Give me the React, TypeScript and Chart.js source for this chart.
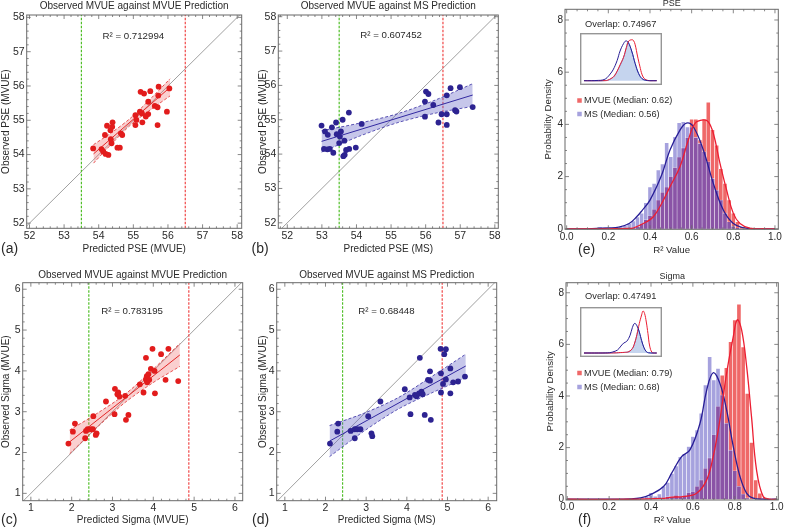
import React, { useEffect, useRef } from "react";
import { Chart, registerables } from "chart.js";

Chart.register(...registerables);

const FONT = '"Liberation Sans", Arial, Helvetica, sans-serif';
Chart.defaults.font.family = FONT;

// ---------------- tick labels ----------------
const pseTicks = [52, 53, 54, 55, 56, 57, 58];
const sigmaTicks = [1, 2, 3, 4, 5, 6];
const r2Ticks = [0, 0.2, 0.4, 0.6, 0.8, 1.0];
const densityTicks = [0, 2, 4, 6, 8];

// ---------------- (a) PSE: observed MVUE vs MVUE prediction ----------------
const aPred = [53.84, 55.21, 55.31, 55.49, 55.73, 56.04, 55.43, 55.72, 55.62, 55.7, 55.97, 55.19, 55.25, 55.43, 55.36, 55.06, 55.09, 55.06, 55.26, 55.7, 54.4, 54.39, 54.24, 54.34, 54.64, 54.68, 54.18, 54.35, 54.37, 54.08, 54.13, 54.2, 54.28, 54.54, 54.61];
const aObs = [54.18, 55.83, 55.78, 55.85, 55.98, 55.93, 55.54, 55.72, 55.42, 55.38, 55.25, 55.25, 55.2, 55.18, 55.11, 55.15, 55.01, 54.86, 54.94, 54.86, 54.94, 54.81, 54.84, 54.71, 54.62, 54.57, 54.57, 54.45, 54.33, 54.16, 54.09, 54.02, 53.99, 54.2, 54.2];
const aFitX = [53.85, 56.06];
const aFitY = [54.02, 55.96];
const aBandX = [53.85, 54.4, 54.95, 55.5, 56.06];
const aBandLo = [53.75, 54.34, 54.89, 55.31, 55.71];
const aBandHi = [54.29, 54.66, 55.09, 55.63, 56.21];

// ---------------- (b) PSE: observed MVUE vs MS prediction ----------------
const bPred = [52.99, 53.09, 53.17, 53.29, 53.41, 53.6, 53.78, 53.43, 53.55, 53.52, 53.06, 53.16, 53.23, 53.33, 53.5, 53.65, 53.7, 53.79, 53.66, 53.62, 53.98, 54.15, 56.01, 56.08, 55.98, 56.22, 55.98, 56.37, 56.61, 56.72, 56.99, 56.46, 56.61, 56.61, 56.89, 56.85, 57.36];
const bObs = [54.83, 54.66, 54.56, 54.78, 54.92, 55.0, 55.21, 54.58, 54.66, 54.51, 54.15, 54.14, 54.15, 54.04, 54.32, 54.39, 54.12, 54.15, 53.98, 53.94, 54.19, 54.88, 55.82, 55.75, 55.53, 55.43, 55.09, 54.92, 55.71, 55.92, 55.95, 55.16, 55.16, 54.85, 55.24, 55.28, 55.37];
const bFitX = [52.99, 57.36];
const bFitY = [54.37, 55.72];
const bBandX = [52.99, 54.08, 55.17, 56.27, 57.36];
const bBandLo = [54.06, 54.52, 54.91, 55.19, 55.39];
const bBandHi = [54.68, 54.9, 55.17, 55.57, 56.05];

// ---------------- (c) Sigma: observed MVUE vs MVUE prediction ----------------
const cPred = [1.92, 2.03, 2.08, 2.35, 2.39, 2.47, 2.52, 2.33, 2.59, 2.61, 2.53, 2.84, 3.06, 3.12, 3.17, 3.14, 3.31, 3.05, 3.33, 3.39, 3.67, 3.76, 3.82, 3.85, 3.84, 3.88, 3.94, 4.03, 4.04, 4.3, 4.61, 3.82, 3.98, 4.19, 4.37, 3.9];
const cObs = [2.22, 2.51, 2.71, 2.53, 2.57, 2.57, 2.57, 2.35, 2.43, 2.47, 2.89, 3.25, 3.56, 3.43, 3.37, 3.47, 3.39, 2.94, 2.8, 2.92, 3.67, 3.47, 3.79, 3.72, 3.87, 3.92, 4.05, 4.0, 3.45, 3.78, 3.75, 4.32, 4.54, 4.41, 4.54, 3.78];
const cFitX = [1.95, 4.65];
const cFitY = [2.26, 4.39];
const cBandX = [1.95, 2.625, 3.3, 3.975, 4.65];
const cBandLo = [1.97, 2.62, 3.22, 3.7, 4.11];
const cBandHi = [2.55, 2.96, 3.42, 4.02, 4.67];

// ---------------- (d) Sigma: observed MVUE vs MS prediction ----------------
const dPred = [2.11, 2.31, 2.29, 2.62, 2.72, 2.78, 2.86, 2.72, 3.13, 3.15, 3.05, 3.35, 3.95, 4.07, 4.2, 4.24, 4.3, 4.36, 4.39, 4.09, 4.44, 4.59, 4.52, 4.57, 4.32, 4.57, 4.83, 4.96, 4.92, 4.84, 4.96, 4.89, 4.84, 5.07, 5.07, 5.14, 5.26, 5.43];
const dObs = [2.22, 2.71, 2.51, 2.53, 2.57, 2.57, 2.57, 2.35, 2.47, 2.4, 2.89, 3.25, 3.55, 3.35, 3.41, 3.38, 3.45, 3.49, 3.43, 2.94, 2.92, 2.8, 3.78, 3.76, 4.32, 3.99, 4.54, 4.53, 4.41, 3.94, 3.79, 3.68, 3.47, 4.06, 3.45, 3.72, 3.74, 3.86];
const dFitX = [2.1, 5.45];
const dFitY = [2.28, 4.12];
const dBandX = [2.1, 2.94, 3.78, 4.61, 5.45];
const dBandLo = [1.9, 2.52, 3.06, 3.46, 3.83];
const dBandHi = [2.66, 2.96, 3.34, 3.86, 4.41];

// reference (threshold) lines: [green, red]
const pseThresholds = [53.5, 56.5];
const sigmaThresholds = [2.42, 4.87];

// ---------------- histograms of R^2 ----------------
const binCenters = [0.1, 0.12, 0.14, 0.16, 0.18, 0.2, 0.22, 0.24, 0.26, 0.28, 0.3, 0.32, 0.34, 0.36, 0.38, 0.4, 0.42, 0.44, 0.46, 0.48, 0.5, 0.52, 0.54, 0.56, 0.58, 0.6, 0.62, 0.64, 0.66, 0.68, 0.7, 0.72, 0.74, 0.76, 0.78, 0.8, 0.82, 0.84, 0.86, 0.88, 0.9, 0.92, 0.94, 0.96];
// (e) PSE
const ePseMS = [0, 0, 0, 0.08, 0.05, 0, 0.03, 0.05, 0.08, 0.12, 0.2, 0.3, 0.45, 0.6, 1.0, 1.6, 1.74, 2.25, 2.48, 3.3, 2.76, 3.53, 4.06, 4.1, 3.9, 3.9, 3.5, 3.27, 2.95, 2.57, 1.93, 1.48, 1.1, 0.6, 0.27, 0.1, 0.03, 0, 0, 0, 0, 0, 0, 0];
const ePseMVUE = [0, 0, 0, 0, 0, 0, 0, 0, 0, 0.03, 0.05, 0.05, 0.08, 0.2, 0.35, 0.5, 0.75, 1.1, 1.4, 1.6, 2.0, 2.35, 2.75, 3.1, 3.5, 4.2, 4.2, 3.4, 4.2, 4.85, 3.8, 3.2, 2.3, 1.74, 1.1, 0.6, 0.27, 0.08, 0.02, 0, 0, 0, 0, 0];
// (f) Sigma
const fSigMS = [0, 0, 0, 0, 0, 0, 0, 0, 0, 0, 0, 0, 0, 0.05, 0.1, 0.25, 0.12, 0.2, 0.5, 0.65, 1.0, 1.29, 1.65, 1.75, 2.04, 2.43, 2.68, 3.33, 4.43, 5.52, 4.62, 5.07, 4.04, 2.94, 1.9, 1.1, 0.5, 0.2, 0.05, 0, 0, 0, 0, 0];
const fSigMVUE = [0, 0, 0, 0, 0, 0, 0, 0, 0, 0, 0, 0, 0, 0, 0, 0, 0, 0, 0.05, 0.1, 0.1, 0.15, 0.1, 0.15, 0.25, 0.3, 0.5, 0.75, 1.2, 1.6, 2.5, 3.6, 4.8, 5.1, 6.1, 6.95, 7.56, 5.9, 4.1, 2.2, 0.75, 0.23, 0.05, 0];

// smoothed density curves
const ePseMSCurveX = [0, 0.1, 0.2, 0.25, 0.3, 0.336, 0.36, 0.4, 0.456, 0.496, 0.544, 0.575, 0.608, 0.656, 0.704, 0.752, 0.8, 0.85, 0.9, 1.0];
const ePseMSCurveY = [0, 0, 0.03, 0.06, 0.2, 0.46, 0.68, 1.1, 2.06, 3.02, 3.78, 4.05, 3.91, 3.02, 1.74, 0.72, 0.2, 0.04, 0, 0];
const ePseMVUECurveX = [0, 0.2, 0.3, 0.32, 0.384, 0.416, 0.456, 0.496, 0.544, 0.584, 0.616, 0.656, 0.68, 0.704, 0.736, 0.768, 0.8, 0.832, 0.88, 0.95, 1.0];
const ePseMVUECurveY = [0, 0, 0.01, 0.03, 0.27, 0.46, 0.97, 1.61, 2.38, 3.4, 4.04, 4.17, 4.1, 3.66, 2.51, 1.48, 0.59, 0.2, 0.02, 0, 0];
const ePseOverlapX = [0, 0.3, 0.384, 0.456, 0.544, 0.584, 0.606, 0.656, 0.704, 0.752, 0.8, 0.85, 1.0];
const ePseOverlapY = [0, 0.01, 0.27, 0.97, 2.38, 3.4, 3.88, 3.02, 1.74, 0.72, 0.2, 0.04, 0];

const fSigMSCurveX = [0, 0.2, 0.3, 0.35, 0.395, 0.46, 0.498, 0.546, 0.586, 0.634, 0.666, 0.697, 0.729, 0.761, 0.793, 0.825, 0.857, 0.888, 0.95, 1.0];
const fSigMSCurveY = [0, 0, 0.01, 0.05, 0.17, 0.49, 1.0, 1.65, 1.91, 2.94, 4.23, 4.9, 4.49, 3.46, 2.04, 0.88, 0.23, 0.04, 0, 0];
const fSigMVUECurveX = [0, 0.3, 0.45, 0.5, 0.554, 0.618, 0.666, 0.697, 0.729, 0.761, 0.793, 0.812, 0.833, 0.857, 0.88, 0.904, 0.936, 0.97, 1.0];
const fSigMVUECurveY = [0, 0, 0.03, 0.08, 0.1, 0.23, 0.75, 1.65, 3.07, 4.88, 6.3, 6.95, 6.55, 5.13, 3.2, 1.14, 0.1, 0, 0];
const fSigOverlapX = [0, 0.45, 0.554, 0.618, 0.666, 0.697, 0.729, 0.745, 0.761, 0.793, 0.825, 0.857, 0.888, 1.0];
const fSigOverlapY = [0, 0.03, 0.1, 0.23, 0.75, 1.65, 3.07, 3.95, 3.46, 2.04, 0.88, 0.23, 0.04, 0];

// ---------------- styles ----------------
const RED_PT = "rgb(226,28,28)";
const RED_LN = "rgb(226,40,40)";
const RED_BAND = "rgba(240,95,95,0.3)";
const NAVY_PT = "rgb(45,35,145)";
const NAVY_LN = "rgb(50,40,160)";
const NAVY_BAND = "rgba(105,105,200,0.38)";
const GREEN_DASH = "rgb(80,190,40)";
const RED_DASH = "rgb(240,70,70)";
const DIAG = "rgb(160,160,160)";
const FRAME = "rgb(105,105,105)";
const TXT = "#2a2a2a";

const BAR_RED = "rgb(239,104,104)";
const BAR_BLUE = "rgb(166,162,222)";
const BAR_PURPLE = "rgb(138,84,166)";
const CURVE_RED = "rgb(236,30,50)";
const CURVE_NAVY = "rgb(40,30,150)";

const pts = (xs: number[], ys: number[]) => xs.map((x, i) => ({ x, y: ys[i] }));

// ---------------- decoration plugin ----------------
const decorPlugin: any = {
  id: "decor",
  beforeDraw(chart: any, _a: any, o: any) {
    if (o && o.background) {
      const ctx = chart.ctx;
      ctx.save();
      ctx.fillStyle = o.background;
      ctx.fillRect(0, 0, chart.width, chart.height);
      ctx.restore();
    }
  },
  afterDatasetsDraw(chart: any, _a: any, o: any) {
    if (!o) return;
    const { ctx, chartArea: a, scales } = chart;
    ctx.save();
    if (o.frame) {
      const f = o.frame;
      ctx.strokeStyle = f.color;
      ctx.lineWidth = f.width || 1;
      ctx.strokeRect(a.left, a.top, a.right - a.left, a.bottom - a.top);
      if (f.xMajor) {
        const xs = scales.x, ys = scales.y;
        const seg = (x1: number, y1: number, x2: number, y2: number) => {
          ctx.beginPath();
          ctx.moveTo(x1, y1);
          ctx.lineTo(x2, y2);
          ctx.stroke();
        };
        const tickX = (v: number, len: number) => {
          const p = xs.getPixelForValue(v);
          if (p < a.left + 0.5 || p > a.right - 0.5) return;
          seg(p, a.bottom, p, a.bottom - len);
          seg(p, a.top, p, a.top + len);
        };
        const tickY = (v: number, len: number) => {
          const p = ys.getPixelForValue(v);
          if (p < a.top + 0.5 || p > a.bottom - 0.5) return;
          seg(a.left, p, a.left + len, p);
          seg(a.right, p, a.right - len, p);
        };
        ctx.lineWidth = 0.8;
        const minors = (major: number[], step: number, lo: number, hi: number) => {
          const out: number[] = [];
          const n0 = Math.ceil(lo / step - 1e-6), n1 = Math.floor(hi / step + 1e-6);
          for (let n = n0; n <= n1; n++) {
            const v = n * step;
            if (!major.some((m) => Math.abs(m - v) < step * 0.01)) out.push(v);
          }
          return out;
        };
        f.xMajor.forEach((v: number) => tickX(v, 4));
        f.yMajor.forEach((v: number) => tickY(v, 4));
        minors(f.xMajor, f.xMinor, xs.min, xs.max).forEach((v) => tickX(v, 2));
        minors(f.yMajor, f.yMinor, ys.min, ys.max).forEach((v) => tickY(v, 2));
      }
    }
    ctx.restore();
  },
  afterDraw(chart: any, _a: any, o: any) {
    if (!o) return;
    const { ctx, scales } = chart;
    ctx.save();
    for (const s of o.swatches || []) {
      ctx.fillStyle = s.color;
      ctx.fillRect(s.x - s.size / 2, s.y - s.size / 2, s.size, s.size);
    }
    for (const t of o.texts || []) {
      let x = t.x, y = t.y;
      if (t.data) {
        x = scales.x.getPixelForValue(t.x);
        y = scales.y.getPixelForValue(t.y);
      }
      ctx.font = `${t.size}px ${FONT}`;
      ctx.fillStyle = t.color || TXT;
      ctx.textAlign = t.align || "left";
      ctx.textBaseline = "middle";
      ctx.fillText(t.text, x, y);
    }
    if (o.border) {
      ctx.strokeStyle = o.border.color;
      ctx.lineWidth = o.border.width;
      const w = o.border.width / 2;
      ctx.strokeRect(w, w, chart.width - 2 * w, chart.height - 2 * w);
    }
    ctx.restore();
  },
};

// ---------------- layout helpers ----------------
type Rect = { x: number; y: number; w: number; h: number };
type Area = { l: number; t: number; r: number; b: number };

function axes(c: Rect, a: Area, o: any) {
  const yW = a.l - c.x;
  const xH = c.y + c.h - a.b;
  const tsz = o.titleSize;
  const lh = tsz * 1.2;
  const zeroPad = (s: any) => {
    s.paddingLeft = 0;
    s.paddingRight = 0;
    s.paddingTop = 0;
    s.paddingBottom = 0;
  };
  return {
    x: {
      type: "linear",
      min: o.xr[0],
      max: o.xr[1],
      offset: false,
      grid: { display: false, drawTicks: false },
      border: { display: false },
      ticks: {
        autoSkip: false,
        maxRotation: 0,
        padding: 1.5,
        color: TXT,
        font: { size: o.tickSize, family: FONT },
        callback: (v: number) => o.xFmt(v),
      },
      afterBuildTicks: (s: any) => {
        s.ticks = o.xTicks.map((v: number) => ({ value: v }));
      },
      afterFit: (s: any) => {
        s.height = xH;
        zeroPad(s);
      },
      title: {
        display: true,
        text: o.xTitle,
        color: TXT,
        font: { size: tsz, family: FONT },
        padding: { top: 0, bottom: c.y + c.h - o.xTitleY - lh / 2 },
      },
    },
    y: {
      type: "linear",
      min: o.yr[0],
      max: o.yr[1],
      grid: { display: false, drawTicks: false },
      border: { display: false },
      ticks: {
        autoSkip: false,
        padding: 2,
        color: TXT,
        font: { size: o.tickSize, family: FONT },
        callback: (v: number) => o.yFmt(v),
      },
      afterBuildTicks: (s: any) => {
        s.ticks = o.yTicks.map((v: number) => ({ value: v }));
      },
      afterFit: (s: any) => {
        s.width = yW;
        zeroPad(s);
      },
      title: {
        display: true,
        text: o.yTitle,
        color: TXT,
        font: { size: tsz, family: FONT },
        padding: { top: o.yTitleX - c.x - lh / 2, bottom: 0 },
      },
    },
  };
}

function padding(c: Rect, a: Area) {
  return { left: 0, top: a.t - c.y, right: c.x + c.w - a.r, bottom: 0 };
}

const intFmt = (v: number) => String(Math.round(v));
const oneDec = (v: number) => v.toFixed(1);

function scatterConfig(p: any) {
  const { c, a, xr, yr } = p;
  const lo = Math.min(xr[0], yr[0]);
  const hi = Math.max(xr[1], yr[1]);
  const lineBase = { showLine: true, pointRadius: 0, fill: false };
  return {
    type: "line",
    data: {
      datasets: [
        {
          data: pts(p.pred, p.obs),
          showLine: false,
          pointRadius: 2.9,
          pointBackgroundColor: p.ptColor,
          pointBorderWidth: 0,
        },
        { ...lineBase, data: pts(p.fitX, p.fitY), borderColor: p.lnColor, borderWidth: 1 },
        {
          ...lineBase,
          data: pts(p.bandX, p.bandHi),
          borderColor: p.lnColor,
          borderWidth: 0.8,
          borderDash: [3, 2],
          tension: 0.3,
          fill: "+1",
          backgroundColor: p.bandColor,
        },
        {
          ...lineBase,
          data: pts(p.bandX, p.bandLo),
          borderColor: p.lnColor,
          borderWidth: 0.8,
          borderDash: [3, 2],
          tension: 0.3,
        },
        {
          ...lineBase,
          data: [{ x: p.thr[0], y: yr[0] }, { x: p.thr[0], y: yr[1] }],
          borderColor: GREEN_DASH,
          borderWidth: 1.2,
          borderDash: [2.5, 1.5],
        },
        {
          ...lineBase,
          data: [{ x: p.thr[1], y: yr[0] }, { x: p.thr[1], y: yr[1] }],
          borderColor: RED_DASH,
          borderWidth: 1.2,
          borderDash: [2.5, 1.5],
        },
        { ...lineBase, data: [{ x: lo, y: lo }, { x: hi, y: hi }], borderColor: DIAG, borderWidth: 1 },
      ],
    },
    options: {
      animation: false,
      responsive: false,
      devicePixelRatio: 1,
      events: [],
      layout: { padding: padding(c, a) },
      scales: axes(c, a, {
        xr,
        yr,
        xTicks: p.ticks,
        yTicks: p.ticks,
        xFmt: intFmt,
        yFmt: intFmt,
        tickSize: 10.5,
        titleSize: 10,
        xTitle: p.xTitle,
        yTitle: p.yTitle,
        xTitleY: p.xTitleY,
        yTitleX: p.yTitleX,
      }),
      plugins: {
        legend: { display: false },
        tooltip: { enabled: false },
        decor: {
          frame: { color: FRAME, width: 1, xMajor: p.ticks, yMajor: p.ticks, xMinor: 0.2, yMinor: 0.2 },
          texts: [
            { text: p.title, x: (a.l + a.r) / 2 - c.x, y: p.titleY - c.y, size: 10, align: "center" },
            { text: p.label, x: p.labelX - c.x, y: p.labelY - c.y, size: 14 },
            { text: p.r2, data: true, x: p.r2At[0], y: p.r2At[1], size: 9.7, align: "center" },
          ],
        },
      },
    },
  };
}

function histConfig(p: any) {
  const { c, a } = p;
  const overlapBars = p.ms.map((v: number, i: number) => Math.min(v, p.mvue[i]));
  const bars = (h: number[], color: string) => ({
    type: "bar",
    data: binCenters.map((x, i) => ({ x, y: h[i] })).filter((d) => d.y > 0),
    backgroundColor: color,
    borderColor: "rgba(255,255,255,0.45)",
    borderWidth: 0.6,
    borderSkipped: "bottom",
    grouped: false,
    categoryPercentage: 1,
    barPercentage: 1,
  });
  const curve = (xs: number[], ys: number[], color: string) => ({
    type: "line",
    data: pts(xs, ys),
    borderColor: color,
    borderWidth: 1.3,
    pointRadius: 0,
    tension: 0.4,
    fill: false,
  });
  return {
    type: "bar",
    data: {
      datasets: [
        curve(p.mvueCurveX, p.mvueCurveY, CURVE_RED),
        curve(p.msCurveX, p.msCurveY, CURVE_NAVY),
        bars(overlapBars, BAR_PURPLE),
        bars(p.ms, BAR_BLUE),
        bars(p.mvue, BAR_RED),
      ],
    },
    options: {
      animation: false,
      responsive: false,
      devicePixelRatio: 1,
      events: [],
      layout: { padding: padding(c, a) },
      scales: axes(c, a, {
        xr: p.xr,
        yr: p.yr,
        xTicks: r2Ticks,
        yTicks: densityTicks,
        xFmt: oneDec,
        yFmt: intFmt,
        tickSize: 10,
        titleSize: 9.7,
        xTitle: "R\u00B2 Value",
        yTitle: "Probability Density",
        xTitleY: p.xTitleY,
        yTitleX: p.yTitleX,
      }),
      plugins: {
        legend: { display: false },
        tooltip: { enabled: false },
        decor: {
          frame: { color: FRAME, width: 1, xMajor: r2Ticks, yMajor: densityTicks, xMinor: 0.05, yMinor: 0.5 },
          swatches: [
            { color: BAR_RED, x: 579.5 - c.x, y: p.legendY[0] - c.y, size: 4.5 },
            { color: BAR_BLUE, x: 579.5 - c.x, y: p.legendY[1] - c.y, size: 4.5 },
          ],
          texts: [
            { text: p.title, x: (a.l + a.r) / 2 - c.x, y: p.titleY - c.y, size: 9, align: "center" },
            { text: p.label, x: p.labelX - c.x, y: p.labelY - c.y, size: 14 },
            { text: p.overlap, x: 585 - c.x, y: p.overlapY - c.y, size: 9.3 },
            { text: p.legend[0], x: 584 - c.x, y: p.legendY[0] - c.y, size: 9.2 },
            { text: p.legend[1], x: 584 - c.x, y: p.legendY[1] - c.y, size: 9.2 },
          ],
        },
      },
    },
  };
}

function insetConfig(p: any) {
  const line = (xs: number[], ys: number[], color: string) => ({
    data: pts(xs, ys),
    borderColor: color,
    borderWidth: 1,
    pointRadius: 0,
    tension: 0.4,
    fill: false,
  });
  return {
    type: "line",
    data: {
      datasets: [
        line(p.msX, p.msY, CURVE_NAVY),
        line(p.mvueX, p.mvueY, CURVE_RED),
        {
          data: pts(p.ovX, p.ovY),
          borderColor: "rgb(110,150,222)",
          borderWidth: 1,
          backgroundColor: "rgba(178,198,232,0.75)",
          pointRadius: 0,
          tension: 0.4,
          fill: "origin",
        },
      ],
    },
    options: {
      animation: false,
      responsive: false,
      devicePixelRatio: 1,
      events: [],
      layout: { padding: 0 },
      scales: {
        x: { type: "linear", display: false, min: -0.055, max: 1.073 },
        y: { type: "linear", display: false, min: p.yr[0], max: p.yr[1] },
      },
      plugins: {
        legend: { display: false },
        tooltip: { enabled: false },
        decor: { background: "#ffffff", border: { color: "rgb(150,150,150)", width: 1.4 } },
      },
    },
  };
}

// ---------------- panel definitions ----------------
const panels: { rect: Rect; make: () => any }[] = [
  {
    rect: { x: 0, y: 0, w: 256, h: 262 },
    make: () =>
      scatterConfig({
        c: { x: 0, y: 0, w: 256, h: 262 },
        a: { l: 26.7, t: 15, r: 241.7, b: 228.3 },
        xr: [51.92, 58.13],
        yr: [51.85, 58.07],
        ticks: pseTicks,
        pred: aPred,
        obs: aObs,
        fitX: aFitX,
        fitY: aFitY,
        bandX: aBandX,
        bandLo: aBandLo,
        bandHi: aBandHi,
        thr: pseThresholds,
        ptColor: RED_PT,
        lnColor: RED_LN,
        bandColor: RED_BAND,
        title: "Observed MVUE against MVUE Prediction",
        titleY: 6,
        label: "(a)",
        labelX: 1,
        labelY: 249,
        r2: "R\u00B2 = 0.712994",
        r2At: [55.0, 57.45],
        xTitle: "Predicted PSE (MVUE)",
        yTitle: "Observed PSE (MVUE)",
        xTitleY: 249,
        yTitleX: 6.7,
      }),
  },
  {
    rect: { x: 250, y: 0, w: 256, h: 262 },
    make: () =>
      scatterConfig({
        c: { x: 250, y: 0, w: 256, h: 262 },
        a: { l: 278.3, t: 15, r: 498.3, b: 228.3 },
        xr: [51.74, 58.1],
        yr: [51.84, 58.05],
        ticks: pseTicks,
        pred: bPred,
        obs: bObs,
        fitX: bFitX,
        fitY: bFitY,
        bandX: bBandX,
        bandLo: bBandLo,
        bandHi: bBandHi,
        thr: pseThresholds,
        ptColor: NAVY_PT,
        lnColor: NAVY_LN,
        bandColor: NAVY_BAND,
        title: "Observed MVUE against MS Prediction",
        titleY: 6,
        label: "(b)",
        labelX: 251.5,
        labelY: 249,
        r2: "R\u00B2 = 0.607452",
        r2At: [55.0, 57.45],
        xTitle: "Predicted PSE (MS)",
        yTitle: "Observed PSE (MVUE)",
        xTitleY: 249,
        yTitleX: 263.3,
      }),
  },
  {
    rect: { x: 0, y: 262, w: 256, h: 268 },
    make: () =>
      scatterConfig({
        c: { x: 0, y: 262, w: 256, h: 268 },
        a: { l: 22.7, t: 282.7, r: 242.7, b: 500.7 },
        xr: [0.8, 6.19],
        yr: [0.82, 6.16],
        ticks: sigmaTicks,
        pred: cPred,
        obs: cObs,
        fitX: cFitX,
        fitY: cFitY,
        bandX: cBandX,
        bandLo: cBandLo,
        bandHi: cBandHi,
        thr: sigmaThresholds,
        ptColor: RED_PT,
        lnColor: RED_LN,
        bandColor: RED_BAND,
        title: "Observed MVUE against MVUE Prediction",
        titleY: 275,
        label: "(c)",
        labelX: 1,
        labelY: 520,
        r2: "R\u00B2 = 0.783195",
        r2At: [3.48, 5.45],
        xTitle: "Predicted Sigma (MVUE)",
        yTitle: "Observed Sigma (MVUE)",
        xTitleY: 520,
        yTitleX: 6.7,
      }),
  },
  {
    rect: { x: 250, y: 262, w: 256, h: 268 },
    make: () =>
      scatterConfig({
        c: { x: 250, y: 262, w: 256, h: 268 },
        a: { l: 276.7, t: 282.7, r: 496.7, b: 500.7 },
        xr: [0.8, 6.21],
        yr: [0.82, 6.16],
        ticks: sigmaTicks,
        pred: dPred,
        obs: dObs,
        fitX: dFitX,
        fitY: dFitY,
        bandX: dBandX,
        bandLo: dBandLo,
        bandHi: dBandHi,
        thr: sigmaThresholds,
        ptColor: NAVY_PT,
        lnColor: NAVY_LN,
        bandColor: NAVY_BAND,
        title: "Observed MVUE against MS Prediction",
        titleY: 275,
        label: "(d)",
        labelX: 252,
        labelY: 520,
        r2: "R\u00B2 = 0.68448",
        r2At: [3.5, 5.45],
        xTitle: "Predicted Sigma (MS)",
        yTitle: "Observed Sigma (MVUE)",
        xTitleY: 520,
        yTitleX: 263.3,
      }),
  },
  {
    rect: { x: 510, y: 0, w: 275, h: 262 },
    make: () =>
      histConfig({
        c: { x: 510, y: 0, w: 275, h: 262 },
        a: { l: 565, t: 9.3, r: 778.3, b: 229.3 },
        xr: [-0.008, 1.016],
        yr: [-0.02, 8.41],
        ms: ePseMS,
        mvue: ePseMVUE,
        msCurveX: ePseMSCurveX,
        msCurveY: ePseMSCurveY,
        mvueCurveX: ePseMVUECurveX,
        mvueCurveY: ePseMVUECurveY,
        title: "PSE",
        titleY: 3.5,
        label: "(e)",
        labelX: 578,
        labelY: 250,
        overlap: "Overlap: 0.74967",
        overlapY: 24,
        legend: ["MVUE (Median: 0.62)", "MS (Median: 0.56)"],
        legendY: [100.5, 114],
        xTitleY: 250,
        yTitleX: 548.3,
      }),
  },
  {
    rect: { x: 510, y: 262, w: 275, h: 268 },
    make: () =>
      histConfig({
        c: { x: 510, y: 262, w: 275, h: 268 },
        a: { l: 566, t: 282.7, r: 778.3, b: 500 },
        xr: [-0.006, 1.008],
        yr: [-0.03, 8.39],
        ms: fSigMS,
        mvue: fSigMVUE,
        msCurveX: fSigMSCurveX,
        msCurveY: fSigMSCurveY,
        mvueCurveX: fSigMVUECurveX,
        mvueCurveY: fSigMVUECurveY,
        title: "Sigma",
        titleY: 276.5,
        label: "(f)",
        labelX: 578,
        labelY: 520,
        overlap: "Overlap: 0.47491",
        overlapY: 296,
        legend: ["MVUE (Median: 0.79)", "MS (Median: 0.68)"],
        legendY: [373, 387],
        xTitleY: 520,
        yTitleX: 550,
      }),
  },
  {
    rect: { x: 580, y: 33, w: 82, h: 52 },
    make: () =>
      insetConfig({
        msX: ePseMSCurveX,
        msY: ePseMSCurveY,
        mvueX: ePseMVUECurveX,
        mvueY: ePseMVUECurveY,
        ovX: ePseOverlapX,
        ovY: ePseOverlapY,
        yr: [-0.44, 4.86],
      }),
  },
  {
    rect: { x: 580, y: 307, w: 82, h: 50 },
    make: () =>
      insetConfig({
        msX: fSigMSCurveX,
        msY: fSigMSCurveY,
        mvueX: fSigMVUECurveX,
        mvueY: fSigMVUECurveY,
        ovX: fSigOverlapX,
        ovY: fSigOverlapY,
        yr: [-0.66, 7.61],
      }),
  },
];

function ChartCanvas({ rect, make }: { rect: Rect; make: () => any }) {
  const ref = useRef<HTMLCanvasElement | null>(null);
  useEffect(() => {
    if (!ref.current) return;
    const cfg = make();
    cfg.plugins = [decorPlugin];
    const chart = new Chart(ref.current, cfg);
    return () => chart.destroy();
  }, []);
  return (
    <canvas
      ref={ref}
      width={rect.w}
      height={rect.h}
      style={{ position: "absolute", left: rect.x, top: rect.y, width: rect.w, height: rect.h }}
    />
  );
}

export default function App() {
  return (
    <div
      style={{
        position: "absolute",
        left: 0,
        top: 0,
        width: 785,
        height: 530,
        background: "#ffffff",
        overflow: "hidden",
      }}
    >
      {panels.map((p, i) => (
        <ChartCanvas key={i} rect={p.rect} make={p.make} />
      ))}
    </div>
  );
}
